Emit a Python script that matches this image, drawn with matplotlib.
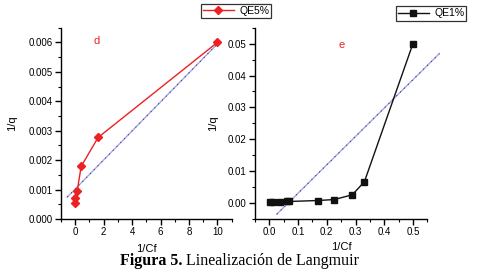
import matplotlib
matplotlib.use("Agg")
import matplotlib.pyplot as plt
from matplotlib.ticker import MultipleLocator, FormatStrFormatter
import numpy as np

# panel d (QE5%)
cf5 = [0.0, 0.0, 0.14, 0.42, 1.61, 10.0]
q5 = [0.00055, 0.00073, 0.00095, 0.00179, 0.00277, 0.0060]
fit5_x = [-0.56, 10.0]
fit5_slope, fit5_icpt = 0.000493, 0.00102

# panel e (QE1%)
cf1 = [0.003, 0.014, 0.036, 0.062, 0.07, 0.168, 0.226, 0.289, 0.331, 0.5]
q1 = [0.0002, 0.0002, 0.0002, 0.0005, 0.0005, 0.0008, 0.0011, 0.0026, 0.0067, 0.050]
fit1_x = [0.026, 0.592]
fit1_slope, fit1_icpt = 0.089, -0.0058

plt.rcParams['font.family'] = ['Liberation Sans', 'DejaVu Sans']
fig = plt.figure(figsize=(4.86, 2.76), dpi=100)
fs = 7
lfs = 8


def style_axes(ax):
    for s in ('top', 'right'):
        ax.spines[s].set_visible(False)
    for s in ('left', 'bottom'):
        ax.spines[s].set_linewidth(1.0)
    ax.tick_params(which='major', direction='out', length=4, width=1, labelsize=fs, pad=2)
    ax.tick_params(which='minor', direction='out', length=2.5, width=0.8)


def fit_line(ax, xs, slope, icpt):
    xs = np.array(xs)
    ys = slope * xs + icpt
    ax.plot(xs, ys, color='#a8a8e0', lw=1.0, clip_on=False, zorder=2)
    ax.plot(xs, ys, color='#1a2f80', lw=0.6, ls=(0, (1.5, 5)), clip_on=False, zorder=2)


def add_legend(ax, cx, cy):
    leg = ax.legend(loc='center', bbox_to_anchor=(cx / 486, 1 - cy / 276),
                    bbox_transform=fig.transFigure, fontsize=fs + 0.5, frameon=True,
                    fancybox=False, edgecolor='black', handlelength=3, borderpad=0.2,
                    handletextpad=0.5, borderaxespad=0)
    leg.get_frame().set_linewidth(0.9)


# left panel
ax1 = fig.add_axes([0.1255, 0.2065, 0.351, 0.693])
style_axes(ax1)
fit_line(ax1, fit5_x, fit5_slope, fit5_icpt)
ax1.plot(cf5, q5, color='#ee2020', lw=1.0, marker='D', ms=4.5, mec='#ee2020',
         mfc='#ee2020', label='QE5%', zorder=3)
ax1.set_xlim(-1, 11)
ax1.set_ylim(0, 0.0065)
ax1.xaxis.set_major_locator(MultipleLocator(2))
ax1.xaxis.set_minor_locator(MultipleLocator(1))
ax1.yaxis.set_major_locator(MultipleLocator(0.001))
ax1.yaxis.set_minor_locator(MultipleLocator(0.0005))
ax1.yaxis.set_major_formatter(FormatStrFormatter('%.3f'))
ax1.set_xlabel('1/Cf', fontsize=lfs, labelpad=5)
ax1.set_ylabel('1/q', fontsize=lfs, labelpad=8)
ax1.text(0.21, 0.93, 'd', transform=ax1.transAxes, color='#ee2020', fontsize=fs + 1,
         ha='center', va='center')
add_legend(ax1, 236, 11)

# right panel
ax2 = fig.add_axes([0.5247, 0.2065, 0.3545, 0.693])
style_axes(ax2)
fit_line(ax2, fit1_x, fit1_slope, fit1_icpt)
ax2.plot(cf1, q1, color='#111111', lw=1.0, marker='s', ms=4, mec='#111111',
         mfc='#111111', label='QE1%', zorder=3)
ax2.set_xlim(-0.05, 0.55)
ax2.set_ylim(-0.005, 0.055)
ax2.xaxis.set_major_locator(MultipleLocator(0.1))
ax2.xaxis.set_minor_locator(MultipleLocator(0.05))
ax2.yaxis.set_major_locator(MultipleLocator(0.01))
ax2.yaxis.set_minor_locator(MultipleLocator(0.005))
ax2.yaxis.set_major_formatter(FormatStrFormatter('%.2f'))
ax2.xaxis.set_major_formatter(FormatStrFormatter('%.1f'))
ax2.set_xlabel('1/Cf', fontsize=lfs, labelpad=3)
ax2.set_ylabel('1/q', fontsize=lfs, labelpad=7)
ax2.text(0.5, 0.91, 'e', transform=ax2.transAxes, color='#ee2020', fontsize=fs + 1,
         ha='center', va='center')
add_legend(ax2, 431, 13.5)

serif = ['Liberation Serif', 'DejaVu Serif']
t1 = fig.text(120 / 486, 0.054, 'Figura 5.', fontsize=11.5, ha='left', va='center',
              family=serif, fontweight='bold')
fig.canvas.draw()
bb = t1.get_window_extent()
fig.text((bb.x1 + 3) / 486, 0.054, 'Linealización de Langmuir', fontsize=11.5,
         ha='left', va='center', family=serif)

plt.savefig('out.png', dpi=100, facecolor='white')
plt.close()
